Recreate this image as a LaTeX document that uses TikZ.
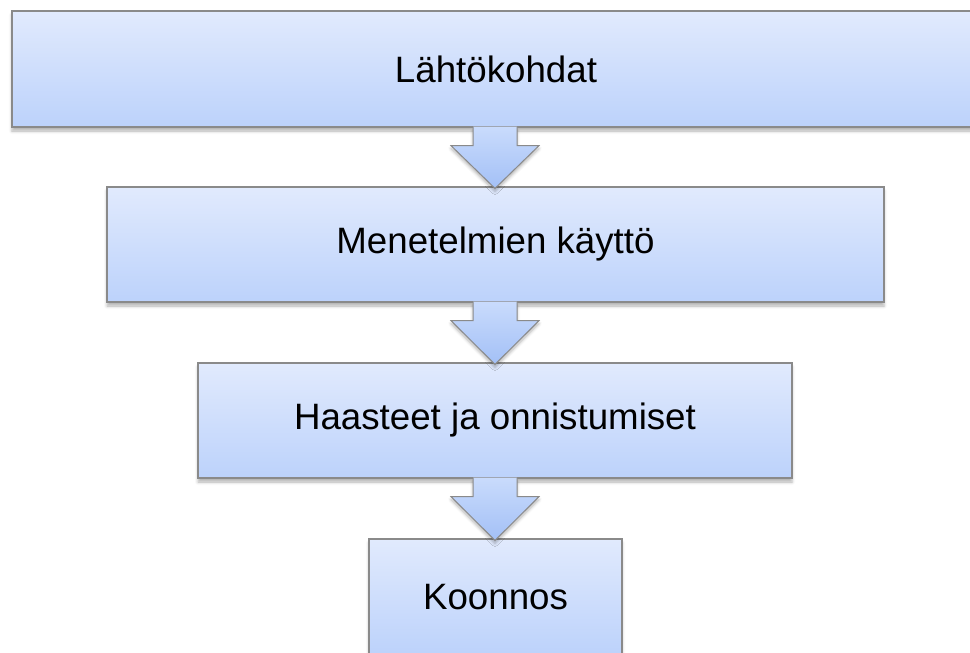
\documentclass[tikz,border=0pt]{standalone}
\usepackage{fontspec}
\setmainfont{Liberation Sans}
\usetikzlibrary{calc,shadows.blur}
\definecolor{boxtop}{HTML}{E1EAFD}
\definecolor{boxbot}{HTML}{BCD2FB}
\definecolor{arrtop}{HTML}{C9DBFC}
\definecolor{arrbot}{HTML}{A3C0F6}
\definecolor{edgegray}{HTML}{8A8A8A}
\begin{document}
\begin{tikzpicture}[x=1pt,y=-1pt,
  stage/.style={draw=edgegray, line width=1.2pt, top color=boxtop, bottom color=boxbot,
    font=\fontsize{36.7}{40}\selectfont, text=black, inner sep=0pt,
    blur shadow={shadow xshift=0pt, shadow yshift=-4pt, shadow opacity=30, shadow blur radius=3pt}},
  flow/.style={draw=edgegray, line width=1pt, top color=arrtop, bottom color=arrbot, line join=miter,
    blur shadow={shadow xshift=0pt, shadow yshift=-3pt, shadow opacity=30, shadow blur radius=3pt}}]
\useasboundingbox (0,0) rectangle (970,653);
\node[stage, minimum width=968pt, minimum height=116pt] (s1) at (496,69) {Lähtökohdat};
\node[stage, minimum width=777pt, minimum height=115pt] (s2) at (495.5,244.5) {Menetelmien käyttö};
\node[stage, minimum width=594pt, minimum height=115pt] (s3) at (495,420.5) {Haasteet ja onnistumiset};
\node[stage, minimum width=253pt, minimum height=116pt] (s4) at (495.5,597) {Koonnos};
\foreach \a/\b in {s1/s2, s2/s3, s3/s4}{
  \path[flow] let \p1=(\a.south), \p2=(\b.north) in
    (495pt-22pt,\y1+1pt) -- (495pt-22pt,\y1-18pt) -- (495pt-44pt,\y1-18pt) -- (495pt,\y2-2pt)
    -- (495pt+44pt,\y1-18pt) -- (495pt+22pt,\y1-18pt) -- (495pt+22pt,\y1+1pt);
}
\end{tikzpicture}
\end{document}
